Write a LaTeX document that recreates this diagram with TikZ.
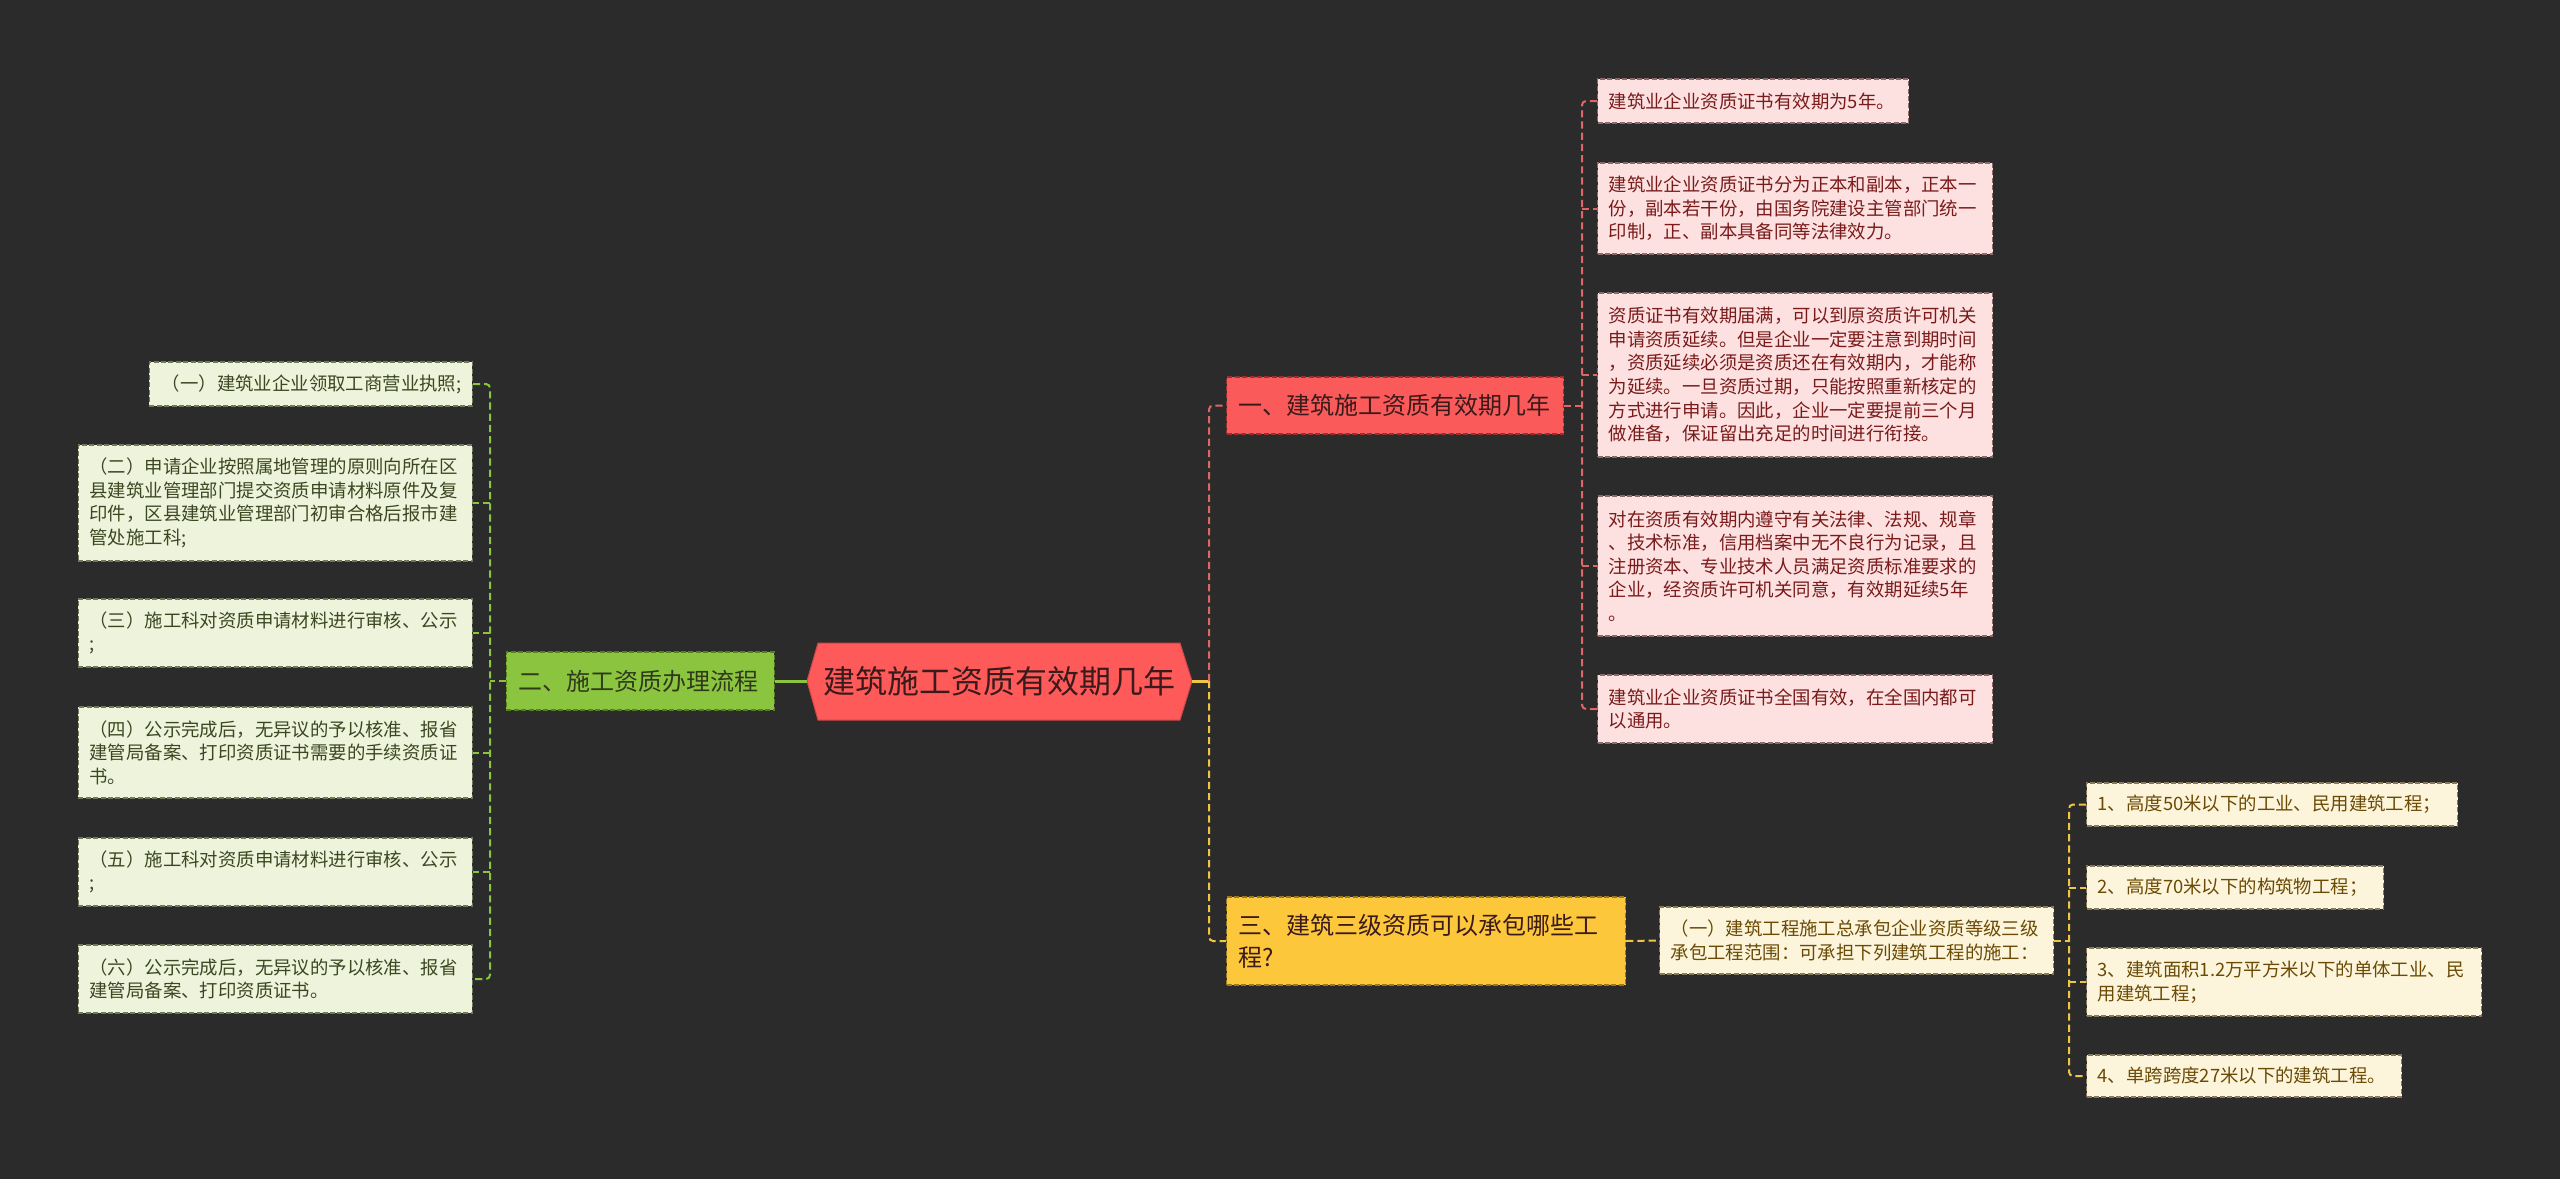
\documentclass[tikz,border=0pt]{standalone}
\usepackage{fontspec}
\setmainfont{Noto Sans CJK SC}
\usetikzlibrary{calc}
\definecolor{bg}{HTML}{2B2B2B}
\definecolor{rootred}{HTML}{FF5A5A}
\definecolor{roottext}{HTML}{3A1A1A}
\definecolor{redbr}{HTML}{FA5A5A}
\definecolor{redbrd}{HTML}{9E2E2E}
\definecolor{redline}{HTML}{E06666}
\definecolor{redleaf}{HTML}{FDE1E1}
\definecolor{redleafd}{HTML}{8A6A6A}
\definecolor{redtext}{HTML}{7A1B1B}
\definecolor{greenbr}{HTML}{8BC53F}
\definecolor{greenbrd}{HTML}{5A7F22}
\definecolor{greenline}{HTML}{8BC53F}
\definecolor{greenleaf}{HTML}{EEF4DB}
\definecolor{greenleafd}{HTML}{6F7A5A}
\definecolor{greentext}{HTML}{3C4722}
\definecolor{yellowbr}{HTML}{FCC73B}
\definecolor{yellowbrd}{HTML}{9A7A1A}
\definecolor{yellowline}{HTML}{F0C445}
\definecolor{yellowleaf}{HTML}{FDF5DB}
\definecolor{yellowleafd}{HTML}{857A5A}
\definecolor{yellowtext}{HTML}{6A4A05}
\tikzset{
  leaffont/.style={font=\fontsize{9.2pt}{11.8pt}\selectfont},
  leafbox/.style={rectangle, leaffont, align=left, inner xsep=5.5pt, inner ysep=0pt,
    line width=0.6pt, dash pattern=on 2.5pt off 1.2pt},
  redleafst/.style={leafbox, fill=redleaf, draw=redleafd, text=redtext, anchor=west},
  greenleafst/.style={leafbox, fill=greenleaf, draw=greenleafd, text=greentext, anchor=east},
  yellowleafst/.style={leafbox, fill=yellowleaf, draw=yellowleafd, text=yellowtext, anchor=west},
  branchbox/.style={rectangle, font=\fontsize{12pt}{16pt}\selectfont, align=left,
    inner xsep=6pt, inner ysep=0pt, line width=0.6pt, dash pattern=on 2.5pt off 1.2pt},
  con/.style={line width=1pt, dash pattern=on 3.6pt off 2pt, rounded corners=2pt},
  redcon/.style={con, draw=redline},
  greencon/.style={con, draw=greenline},
  yelcon/.style={con, draw=yellowline},
}
\begin{document}
\begin{tikzpicture}[x=0.5pt,y=-0.5pt]
\fill[bg] (0,0) rectangle (2560,1179);
\useasboundingbox (0,0) rectangle (2560,1179);

% root hexagon
\fill[rootred, draw=rootred!80!black, line width=0.5pt] (807,681) -- (818,643) -- (1180,643) -- (1192,681) -- (1180,720) -- (818,720) -- cycle;
\node[text=roottext, font=\fontsize{16pt}{20pt}\selectfont, inner sep=0pt] (root) at (999.5,681) {建筑施工资质有效期几年};
\coordinate (rootW) at (807,681);
\coordinate (rootE) at (1192,681);

% branches
\node[branchbox, fill=redbr, draw=redbrd, text=roottext, anchor=west, text width=156.5pt, minimum height=28.5pt] (b1) at (1226,405.5) {一、建筑施工资质有效期几年};
\node[branchbox, fill=greenbr, draw=greenbrd, text=greentext!80!black, anchor=east, text width=122pt, minimum height=29pt] (b2) at (775,681) {二、施工资质办理流程};
\node[branchbox, fill=yellowbr, draw=yellowbrd, text=roottext, anchor=west, text width=187.5pt, minimum height=44pt] (b3) at (1226,941) {三、建筑三级资质可以承包哪些工\\程?};

% red leaves
\node[redleafst, text width=144.5pt, minimum height=22pt] (c1) at (1597,101) {建筑业企业资质证书有效期为5年。};
\node[redleafst, text width=186.5pt, minimum height=45.5pt] (c2) at (1597,208.5) {建筑业企业资质证书分为正本和副本，正本一\\份，副本若干份，由国务院建设主管部门统一\\印制，正、副本具备同等法律效力。};
\node[redleafst, text width=186.5pt, minimum height=82pt] (c3) at (1597,375) {资质证书有效期届满，可以到原资质许可机关\\申请资质延续。但是企业一定要注意到期时间\\，资质延续必须是资质还在有效期内，才能称\\为延续。一旦资质过期，只能按照重新核定的\\方式进行申请。因此，企业一定要提前三个月\\做准备，保证留出充足的时间进行衔接。};
\node[redleafst, text width=186.5pt, minimum height=70pt] (c4) at (1597,566) {对在资质有效期内遵守有关法律、法规、规章\\、技术标准，信用档案中无不良行为记录，且\\注册资本、专业技术人员满足资质标准要求的\\企业，经资质许可机关同意，有效期延续5年\\。};
\node[redleafst, text width=186.5pt, minimum height=34pt] (c5) at (1597,709) {建筑业企业资质证书全国有效，在全国内都可\\以通用。};

% green leaves
\node[greenleafst, text width=150.5pt, minimum height=22pt, align=right] (l1) at (473,384) {（一）建筑业企业领取工商营业执照;};
\node[greenleafst, text width=186pt, minimum height=58pt] (l2) at (473,503) {（二）申请企业按照属地管理的原则向所在区\\县建筑业管理部门提交资质申请材料原件及复\\印件，区县建筑业管理部门初审合格后报市建\\管处施工科;};
\node[greenleafst, text width=186pt, minimum height=34pt] (l3) at (473,633) {（三）施工科对资质申请材料进行审核、公示\\;};
\node[greenleafst, text width=186pt, minimum height=45.5pt] (l4) at (473,752.5) {（四）公示完成后，无异议的予以核准、报省\\建管局备案、打印资质证书需要的手续资质证\\书。};
\node[greenleafst, text width=186pt, minimum height=34pt] (l5) at (473,872) {（五）施工科对资质申请材料进行审核、公示\\;};
\node[greenleafst, text width=186pt, minimum height=34pt] (l6) at (473,979) {（六）公示完成后，无异议的予以核准、报省\\建管局备案、打印资质证书。};

% yellow leaves
\node[yellowleafst, text width=186pt, minimum height=33.5pt] (y1) at (1659,940.5) {（一）建筑工程施工总承包企业资质等级三级\\承包工程范围：可承担下列建筑工程的施工：};
\node[yellowleafst, text width=174.5pt, minimum height=21.5pt] (g1) at (2086,804.5) {1、高度50米以下的工业、民用建筑工程；};
\node[yellowleafst, text width=137.5pt, minimum height=21.5pt] (g2) at (2086,887.5) {2、高度70米以下的构筑物工程；};
\node[yellowleafst, text width=186.5pt, minimum height=34pt] (g3) at (2086,982) {3、建筑面积1.2万平方米以下的单体工业、民\\用建筑工程；};
\node[yellowleafst, text width=146.5pt, minimum height=21pt] (g4) at (2086,1076) {4、单跨跨度27米以下的建筑工程。};

% junction coordinates
\coordinate (rj) at (1209,681);
\coordinate (rb) at (1582,405.5);
\coordinate (gj) at (490,681);
\coordinate (yb) at (2069,940.5);

% root connectors
\draw[greenline, line width=1.5pt] (rootW) -- (b2.east);
\draw[yellowline, line width=1.5pt] (rootE) -- (rj);
\draw[redcon] (rj) |- (b1.west);
\draw[yelcon] (rj) |- (b3.west);

% red bus
\draw[redcon] (b1.east) -- (rb);
\draw[redcon] (c1.west) -| (rb |- c5.west) -- (c5.west);
\draw[redcon] (rb |- c2.west) -- (c2.west);
\draw[redcon] (rb |- c3.west) -- (c3.west);
\draw[redcon] (rb |- c4.west) -- (c4.west);

% green bus
\draw[greencon] (b2.west) -- (gj);
\draw[greencon] (l1.east) -| (gj |- l6.east) -- (l6.east);
\draw[greencon] (gj |- l2.east) -- (l2.east);
\draw[greencon] (gj |- l3.east) -- (l3.east);
\draw[greencon] (gj |- l4.east) -- (l4.east);
\draw[greencon] (gj |- l5.east) -- (l5.east);

% yellow
\draw[yelcon] (b3.east) -- (y1.west);
\draw[yelcon] (y1.east) -- (yb);
\draw[yelcon] (g1.west) -| (yb |- g4.west) -- (g4.west);
\draw[yelcon] (yb |- g2.west) -- (g2.west);
\draw[yelcon] (yb |- g3.west) -- (g3.west);
\end{tikzpicture}
\end{document}
